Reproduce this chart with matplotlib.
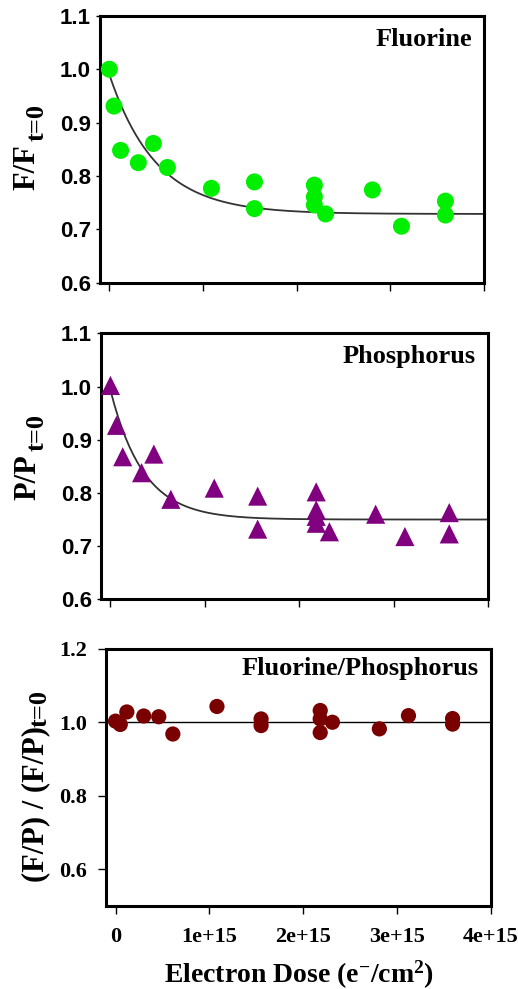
import numpy as np
import matplotlib
matplotlib.use("Agg")
import matplotlib.pyplot as plt

plt.rcParams['mathtext.fontset'] = 'custom'
plt.rcParams['mathtext.rm'] = 'Liberation Serif:bold'
plt.rcParams['mathtext.bf'] = 'Liberation Serif:bold'
plt.rcParams['mathtext.it'] = 'Liberation Serif:bold'

# electron dose in units of 1e15 e-/cm2
dose_f = [0.0, 0.05, 0.12, 0.31, 0.47, 0.62, 1.09, 1.55, 1.55, 2.19, 2.19, 2.19,
          2.31, 2.81, 3.12, 3.59, 3.59]
f_ratio = [1.000, 0.931, 0.848, 0.825, 0.861, 0.816, 0.777, 0.789, 0.739, 0.783,
           0.761, 0.746, 0.729, 0.774, 0.706, 0.753, 0.727]

dose_p = [0.0, 0.064, 0.13, 0.33, 0.46, 0.64, 1.10, 1.56, 1.56, 2.18, 2.18, 2.18,
          2.18, 2.32, 2.81, 3.12, 3.59, 3.59]
p_ratio = [1.002, 0.927, 0.868, 0.838, 0.873, 0.788, 0.809, 0.794, 0.732, 0.802,
           0.768, 0.756, 0.743, 0.727, 0.760, 0.718, 0.763, 0.723]

dose_fp = [0.0, 0.05, 0.12, 0.30, 0.46, 0.61, 1.08, 1.55, 1.55, 2.18, 2.18, 2.18,
           2.31, 2.81, 3.12, 3.59, 3.59]
fp_ratio = [1.003, 0.994, 1.028, 1.017, 1.015, 0.968, 1.043, 1.009, 0.991, 1.032,
            1.009, 0.972, 1.000, 0.982, 1.018, 1.010, 0.995]

# exponential fit parameters: (plateau, start, decay)
fit_f = (0.729, 0.990, 0.50)
fit_p = (0.750, 0.993, 0.35)

x_ticks = [0, 1, 2, 3, 4]
x_tick_labels = ['0', '1e+15', '2e+15', '3e+15', '4e+15']

SERIF = 'Liberation Serif'
SANS = 'Liberation Sans'
W, H = 518, 989

fig = plt.figure(figsize=(W / 100, H / 100), dpi=100)
ax1 = fig.add_axes([0.193, 0.714, 0.741, 0.270])
ax2 = fig.add_axes([0.195, 0.394, 0.747, 0.269])
ax3 = fig.add_axes([0.205, 0.084, 0.743, 0.260])


def style_axes(ax):
    for s in ax.spines.values():
        s.set_linewidth(2.2)
    ax.set_xlim(-0.1, 4.0)
    ax.set_xticks(x_ticks)


def set_ytick_font(ax, family, size):
    for lab in ax.get_yticklabels():
        lab.set_fontfamily(family)
        lab.set_fontweight('bold')
        lab.set_fontsize(size)


def fit_curve(ax, params):
    plateau, start, decay = params
    xs = np.linspace(0, 4.0, 200)
    ax.plot(xs, plateau + (start - plateau) * np.exp(-xs / decay),
            color='#333333', lw=1.3, zorder=2)


def ylabel(main, sub, main_pos, sub_pos):
    # rotated label with a nearly full-size subscript, positions in pixels
    fig.text(main_pos[0] / W, 1 - main_pos[1] / H, main, rotation=90,
             ha='left', va='bottom', family=SERIF, weight='bold', fontsize=22)
    fig.text(sub_pos[0] / W, 1 - sub_pos[1] / H, sub, rotation=90,
             ha='left', va='bottom', family=SERIF, weight='bold', fontsize=19)


# Fluorine
ax1.scatter(dose_f, f_ratio, s=150, color='#00ee00', edgecolors='none', zorder=3)
fit_curve(ax1, fit_f)
ax1.set_ylim(0.6, 1.1)
ax1.set_yticks([0.6, 0.7, 0.8, 0.9, 1.0, 1.1])
style_axes(ax1)
ax1.set_xticklabels([])
ax1.tick_params(axis='y', direction='out', length=3, width=1, pad=3.5)
ax1.tick_params(axis='x', direction='out', length=6, width=1)
set_ytick_font(ax1, SANS, 16)
ax1.text(0.969, 0.955, 'Fluorine', transform=ax1.transAxes, ha='right', va='top',
         family=SERIF, weight='bold', fontsize=19)
ylabel('F/F', 't=0', (12, 190), (26, 141))

# Phosphorus
ax2.scatter(dose_p, p_ratio, s=190, marker='^', color='#800080', edgecolors='none',
            zorder=3)
fit_curve(ax2, fit_p)
ax2.set_ylim(0.6, 1.1)
ax2.set_yticks([0.6, 0.7, 0.8, 0.9, 1.0, 1.1])
style_axes(ax2)
ax2.set_xticklabels([])
ax2.tick_params(axis='y', direction='out', length=3, width=1, pad=3.5)
ax2.tick_params(axis='x', direction='out', length=6, width=1)
set_ytick_font(ax2, SANS, 16)
ax2.text(0.969, 0.955, 'Phosphorus', transform=ax2.transAxes, ha='right', va='top',
         family=SERIF, weight='bold', fontsize=19)
ylabel('P/P', 't=0', (13, 500), (26, 451))

# Fluorine/Phosphorus
ax3.scatter(dose_fp, fp_ratio, s=120, color='#7a0000', edgecolors='none', zorder=3)
ax3.axhline(1.0, color='black', lw=1.0, zorder=2)
ax3.set_ylim(0.5, 1.2)
ax3.set_yticks([0.6, 0.8, 1.0, 1.2])
ax3.set_yticklabels(['0.6', '0.8', '1.0', '1.2'])
style_axes(ax3)
ax3.set_xticklabels(x_tick_labels, family=SERIF, weight='bold', fontsize=16)
ax3.tick_params(axis='y', direction='out', length=6, width=1, pad=7.5)
ax3.tick_params(axis='x', direction='out', length=6, width=1, pad=9.5)
set_ytick_font(ax3, SERIF, 16)
ax3.text(0.969, 0.969, 'Fluorine/Phosphorus', transform=ax3.transAxes, ha='right',
         va='top', family=SERIF, weight='bold', fontsize=19)
ylabel('(F/P) / (F/P)', 't=0', (21, 882), (29, 727))
ax3.set_xlabel(r'Electron Dose (e$^{\mathbf{-}}$/cm$^{\mathbf{2}}$)', family=SERIF,
               weight='bold', fontsize=20, labelpad=8)

fig.savefig('out.png', dpi=100)
